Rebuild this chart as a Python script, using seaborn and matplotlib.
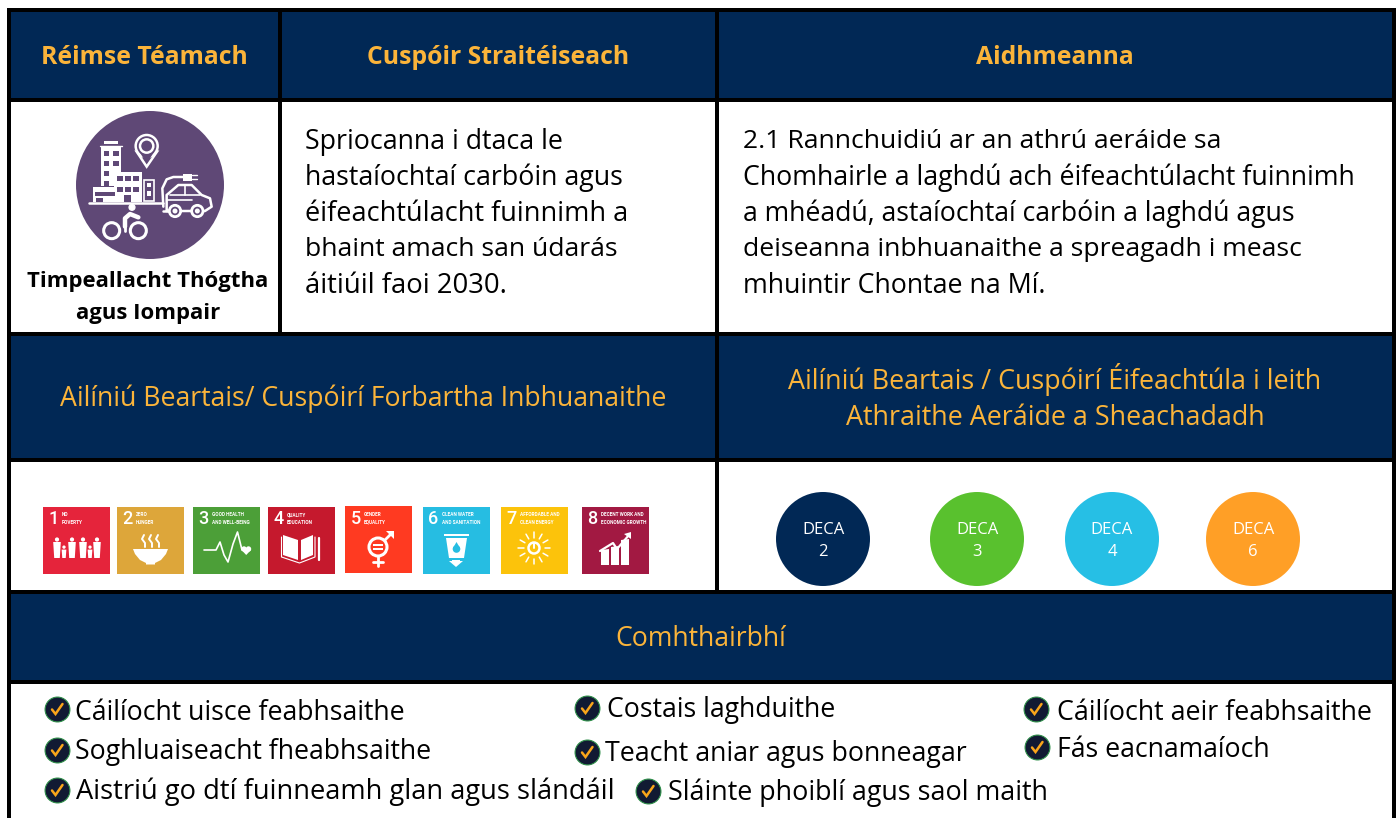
import numpy as np
import pandas as pd
import seaborn as sns
from matplotlib import pyplot as plt
from matplotlib.patches import Circle, Polygon, Rectangle

# table text
header_labels = ['Réimse Téamach', 'Cuspóir Straitéiseach', 'Aidhmeanna']
theme_lines = ['Timpeallacht Thógtha', 'agus Iompair']
strategy_lines = ['Spriocanna i dtaca le', 'hastaíochtaí carbóin agus', 'éifeachtúlacht fuinnimh a',
                  'bhaint amach san údarás', 'áitiúil faoi 2030.']
aim_lines = ['2.1 Rannchuidiú ar an athrú aeráide sa', 'Chomhairle a laghdú ach éifeachtúlacht fuinnimh',
             'a mhéadú, astaíochtaí carbóin a laghdú agus', 'deiseanna inbhuanaithe a spreagadh i measc',
             'mhuintir Chontae na Mí.']
policy_left = 'Ailíniú Beartais/ Cuspóirí Forbartha Inbhuanaithe'
policy_right = ['Ailíniú Beartais / Cuspóirí Éifeachtúla i leith', 'Athraithe Aeráide a Sheachadadh']
benefits_title = 'Comhthairbhí'
benefits = ['Cáilíocht uisce feabhsaithe', 'Costais laghduithe', 'Cáilíocht aeir feabhsaithe',
            'Soghluaiseacht fheabhsaithe', 'Teacht aniar agus bonneagar', 'Fás eacnamaíoch',
            'Aistriú go dtí fuinneamh glan agus slándáil', 'Sláinte phoiblí agus saol maith']

# SDG tiles
sdg_numbers = ['1', '2', '3', '4', '5', '6', '7', '8']
sdg_names = [['NO', 'POVERTY'], ['ZERO', 'HUNGER'], ['GOOD HEALTH', 'AND WELL-BEING'], ['QUALITY', 'EDUCATION'],
             ['GENDER', 'EQUALITY'], ['CLEAN WATER', 'AND SANITATION'], ['AFFORDABLE AND', 'CLEAN ENERGY'],
             ['DECENT WORK AND', 'ECONOMIC GROWTH']]
sdg_colors = ['#E5243B', '#DDA63A', '#4C9F38', '#C5192D', '#FF3A21', '#26BDE2', '#FCC30B', '#A21942']

# DECA circles
deca_labels = ['2', '3', '4', '6']
deca_colors = ['#012855', '#59C12E', '#26BFE5', '#FF9F26']

NAVY = '#012855'
GOLD = '#FBB43A'
PURPLE = '#5F4876'

sns.set_theme(style='white')
plt.rcParams['font.family'] = ['Open Sans', 'DejaVu Sans']

fig = plt.figure(figsize=(13.96, 8.18), dpi=100, facecolor='white')
ax = fig.add_axes([0, 0, 1, 1])
ax.set_xlim(0, 1396)
ax.set_ylim(818, 0)
ax.axis('off')


def box(x0, y0, x1, y1, color, z=1):
    ax.add_patch(Rectangle((x0, y0), x1 - x0, y1 - y0, fc=color, ec='none', zorder=z))


def text(x, y, s, size, color='black', ha='left', **kw):
    ax.text(x, y, s, fontsize=size, color=color, ha=ha, va='center', zorder=8, **kw)


# table frame: black underneath, cells on top
box(7, 8, 1396, 818, 'black')
box(11, 12, 278, 98, NAVY, 2)
box(282, 12, 715, 98, NAVY, 2)
box(719, 12, 1392, 98, NAVY, 2)
box(11, 102, 278, 332, 'white', 2)
box(282, 102, 715, 332, 'white', 2)
box(719, 102, 1392, 332, 'white', 2)
box(11, 336, 715, 458, NAVY, 2)
box(719, 336, 1392, 458, NAVY, 2)
box(11, 462, 715, 590, 'white', 2)
box(719, 462, 1392, 590, 'white', 2)
box(11, 594, 1392, 680, NAVY, 2)
box(11, 684, 1392, 818, 'white', 2)

for x, label in zip([144, 498, 1055], header_labels):
    text(x, 57, label, 17.8, GOLD, 'center', fontweight='bold')

for y, line in zip([282, 314], theme_lines):
    text(148, y, line, 15.9, 'black', 'center', fontweight='bold')
strategy_size = [19.3, 19.3, 19.5, 19.05, 19.8]
aim_size = [19.05, 19.28, 19.2, 19.05, 19.3]
for i, line in enumerate(strategy_lines):
    text(305, 142 + 36 * i, line, strategy_size[i])
for i, line in enumerate(aim_lines):
    text(743, 142 + 36 * i, line, aim_size[i])

text(363, 399, policy_left, 19.2, GOLD, 'center')
for y, line in zip([379.5, 418], policy_right):
    text(1055, y, line, 19.4, GOLD, 'center')
text(701, 639, benefits_title, 19.2, GOLD, 'center')

# purple theme icon, drawn on a 3x grid taken from a crop of the cell
ax.add_patch(Circle((150, 185), 74, fc=PURPLE, ec='none', zorder=3))


def ic(zx, zy):
    return 10 + zx / 3, 110 + zy / 3


def iline(points, lw=1.8):
    xs, ys = zip(*[ic(*p) for p in points])
    ax.plot(xs, ys, color='white', lw=lw, zorder=4, solid_capstyle='round', solid_joinstyle='round')


def ibox(zx0, zy0, zx1, zy1, fc='white', ec='none', lw=1.2):
    x0, y0 = ic(zx0, zy0)
    ax.add_patch(Rectangle((x0, y0), (zx1 - zx0) / 3, (zy1 - zy0) / 3, fc=fc, ec=ec, lw=lw, zorder=4))


def iring(zx, zy, r, lw=1.8, fc='none'):
    ax.add_patch(Circle(ic(zx, zy), r / 3, fc=fc, ec='white', lw=lw, zorder=5))


ibox(282, 92, 324, 101)
iline([(270, 107), (335, 107)], 1.0)
ibox(272, 112, 332, 228)
for wx, wy in [(281, 124), (310, 124), (281, 154), (310, 154), (281, 184), (281, 212)]:
    ibox(wx, wy, wx + 16, wy + 15, fc=PURPLE)
ibox(312, 185, 396, 275)
for wx in [322, 346, 370]:
    for wy in [198, 232]:
        ibox(wx, wy, wx + 16, wy + 15, fc=PURPLE)
ibox(342, 256, 362, 275, fc=PURPLE)
ibox(250, 232, 320, 275, fc='white')
ibox(256, 246, 314, 258, fc=PURPLE)
ibox(258, 264, 278, 275, fc=PURPLE)
ibox(402, 210, 432, 272, fc=PURPLE, ec='white')
for wy in [218, 243]:
    ibox(411, wy, 424, wy + 14)
iline([(238, 280), (460, 280)], 1.8)
ax.add_patch(Polygon([ic(380, 125), ic(410, 170), ic(441, 125)], fc=PURPLE, ec='white', lw=1.8, zorder=4))
ax.add_patch(Circle(ic(410, 108), 11, fc=PURPLE, ec='white', lw=1.8, zorder=4))
ax.add_patch(Polygon([ic(388, 125), ic(410, 160), ic(433, 125)], fc=PURPLE, ec='none', zorder=4))
iring(410, 108, 20, 1.8)
iline([(460, 290), (457, 235), (470, 208), (490, 201), (522, 201)])
ibox(520, 192, 545, 212)
iline([(545, 195), (560, 195)], 1.0)
iline([(545, 207), (560, 207)], 1.0)
iline([(458, 302), (474, 302)])
iline([(470, 300), (470, 255), (505, 225), (545, 225), (575, 255), (600, 265), (605, 290), (585, 303), (470, 303)])
iline([(480, 255), (570, 255)], 1.2)
iline([(470, 270), (545, 270)], 1.2)
iline([(525, 228), (525, 255)], 1.2)
for wx in [495, 562]:
    iring(wx, 303, 17, 2.0, fc=PURPLE)
    ax.add_patch(Circle(ic(wx, 303), 1.8, fc='white', zorder=6))
ax.add_patch(Circle(ic(366, 292), 2.9, fc='white', zorder=5))
for wx in [305, 385]:
    iring(wx, 362, 24, 2.2)
iline([(345, 362), (345, 335)], 2.0)
iline([(345, 350), (345, 325), (360, 312), (385, 322)], 3.2)

# SDG tiles and their white pictograms, each in the tile's own 67 px grid
tile_left = [43, 117, 193, 268, 345, 423, 501, 582]
tile_top = [507, 507, 507, 507, 506, 507, 507, 507]
TILE = 67


def tile_line(ox, oy, pts, lw=1.5):
    xs = [ox + p[0] for p in pts]
    ys = [oy + p[1] for p in pts]
    ax.plot(xs, ys, color='white', lw=lw, zorder=4, solid_capstyle='round', solid_joinstyle='round')


def tile_poly(ox, oy, pts, fc='white'):
    ax.add_patch(Polygon([(ox + p[0], oy + p[1]) for p in pts], fc=fc, ec='none', zorder=4))


def tile_dot(ox, oy, x, y, r, fc='white', ec='none', lw=1):
    ax.add_patch(Circle((ox + x, oy + y), r, fc=fc, ec=ec, lw=lw, zorder=4))


def draw_sdg(i, ox, oy):
    if i == 0:
        for x, h in [(14, 1), (29, 1), (40, 1), (54, 1), (21, .62), (47, .62)]:
            top = 51 - 20 * h
            tile_dot(ox, oy, x, top + 1.5, 2.1 * (h ** .5))
            tile_poly(ox, oy, [(x - 3.8 * h, top + 4), (x + 3.8 * h, top + 4), (x + 2.8 * h, 51), (x - 2.8 * h, 51)])
    elif i == 1:
        bowl = [(16, 42), (51, 42), (49, 47), (44, 53), (38, 56), (38, 57.5), (29, 57.5), (29, 56), (23, 53), (18, 47)]
        tile_poly(ox, oy, bowl)
        for x in [27, 34, 41]:
            tile_line(ox, oy, [(x, 28), (x - 2, 32), (x + 1, 36), (x + 1, 40)], 1.4)
    elif i == 2:
        tile_line(ox, oy, [(11, 43), (23, 43), (27, 35), (31, 48), (35, 55), (40, 37), (44.5, 25), (49, 43)], 1.2)
        tile_dot(ox, oy, 51, 42, 2.7)
        tile_dot(ox, oy, 55.5, 42, 2.7)
        tile_poly(ox, oy, [(48.5, 43), (58, 43), (53.2, 48)])
    elif i == 3:
        tile_poly(ox, oy, [(15, 28), (30, 33), (30, 53), (15, 48)])
        tile_poly(ox, oy, [(33, 33), (45, 28), (45, 48), (33, 53)])
        tile_line(ox, oy, [(13.5, 30), (13.5, 50), (31.5, 56), (47, 50), (47, 30)], .8)
        tile_line(ox, oy, [(50.5, 31), (50.5, 53)], 1.6)
    elif i == 4:
        tile_dot(ox, oy, 33, 41, 9, fc='none', ec='white', lw=2.2)
        tile_poly(ox, oy, [(28, 37.5), (38, 37.5), (38, 39.5), (28, 39.5)])
        tile_poly(ox, oy, [(28, 42), (38, 42), (38, 44), (28, 44)])
        tile_line(ox, oy, [(33, 50), (33, 60)], 2.0)
        tile_line(ox, oy, [(28, 56), (38, 56)], 2.0)
        tile_line(ox, oy, [(40, 34), (47, 27)], 2.0)
        tile_poly(ox, oy, [(41, 25), (49, 25), (49, 33)])
    elif i == 5:
        tile_poly(ox, oy, [(21, 27), (46, 27), (46, 29), (21, 29)])
        tile_poly(ox, oy, [(23, 31), (44, 31), (41, 51), (26, 51)])
        tile_poly(ox, oy, [(29, 53), (37, 53), (37, 54), (40, 54), (33, 60), (26, 54), (29, 54)])
        tile_dot(ox, oy, 33.5, 42, 3.8, fc=sdg_colors[5])
        tile_poly(ox, oy, [(33.5, 35), (30, 41), (37, 41)], fc=sdg_colors[5])
    elif i == 6:
        tile_dot(ox, oy, 33, 41, 5.5, fc='none', ec='white', lw=1.8)
        tile_line(ox, oy, [(33, 36), (33, 41)], 1.4)
        for ang in np.radians(np.arange(0, 360, 30)):
            tile_line(ox, oy, [(33 + 10.5 * np.cos(ang), 41 + 10.5 * np.sin(ang)),
                               (33 + 16 * np.cos(ang), 41 + 16 * np.sin(ang))], 1.1)
    else:
        for x0, x1, top in [(19, 27, 43), (29, 37, 40), (39, 47, 33)]:
            tile_poly(ox, oy, [(x0, top), (x1, top - 1), (x1, 58), (x0, 58)])
        tile_line(ox, oy, [(18, 44), (31, 36), (35, 42), (47, 28)], 1.6)
        tile_poly(ox, oy, [(42, 27), (49, 25), (49, 32)])


for i in range(len(sdg_numbers)):
    ox, oy = tile_left[i], tile_top[i]
    ax.add_patch(Rectangle((ox, oy), TILE, TILE, fc=sdg_colors[i], ec='none', zorder=3))
    ax.text(ox + 10.5, oy + 12.5, sdg_numbers[i], fontsize=13, color='white', ha='center', va='center',
            family='Roboto', fontweight='medium', zorder=5)
    for j, line in enumerate(sdg_names[i]):
        ax.text(ox + 19, oy + 8 + 8 * j, line, fontsize=3.4, color='white', ha='left', va='center',
                family='Roboto', fontweight='bold', zorder=5)
    draw_sdg(i, ox, oy)

# DECA circles through seaborn
deca_df = pd.DataFrame({'x': [823, 977, 1112, 1253], 'y': [539] * 4, 'goal': deca_labels})
sns.scatterplot(data=deca_df, x='x', y='y', hue='goal', palette=deca_colors, s=4580, linewidth=0,
                legend=False, ax=ax, zorder=3)
for x, label in zip(deca_df['x'], deca_labels):
    text(x, 530, 'DECA', 12, 'white', 'center')
    text(x, 552, label, 12, 'white', 'center')

# benefit bullets
check_x = [57, 587, 1036, 57, 587, 1037, 57, 648]
check_y = [709, 708, 709, 750, 752, 747, 790, 791]
text_x = [75, 607, 1057, 75, 605, 1057, 76, 668]
text_y = [713, 710, 713, 752, 754, 750, 792, 793]
text_size = [19.2, 19.2, 19.3, 19.2, 19.3, 19.2, 19.6, 19.4]
check_df = pd.DataFrame({'x': check_x, 'y': check_y})
sns.scatterplot(data=check_df, x='x', y='y', color='#111A33', edgecolor='#2F8F4A', s=320, linewidth=0.8,
                legend=False, ax=ax, zorder=3)
for cx, cy in zip(check_x, check_y):
    ax.plot([cx - 5, cx - 1.5, cx + 5.5], [cy + 0.5, cy + 5, cy - 5], color='#F9A51A', lw=1.8, zorder=4,
            solid_joinstyle='miter')
for x, y, label, size in zip(text_x, text_y, benefits, text_size):
    text(x, y, label, size)

ax.set_xlim(0, 1396)
ax.set_ylim(818, 0)
ax.set_xlabel('')
ax.set_ylabel('')
ax.axis('off')

fig.savefig('out.png', dpi=100)
